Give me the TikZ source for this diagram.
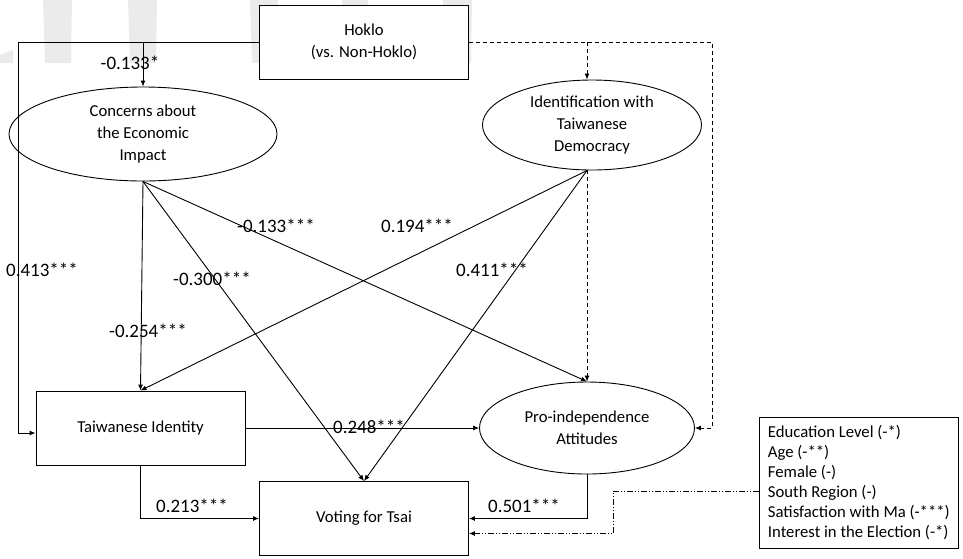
\documentclass[tikz,border=0pt]{standalone}
\usepackage{fontspec}
\setmainfont{Carlito}
\usetikzlibrary{shapes.geometric,arrows.meta,calc}
\begin{document}
\begin{tikzpicture}[x=1pt,y=-1pt,
  line width=0.9pt,
  >={Latex[length=6pt,width=5pt]},
  txt/.style={font=\fontsize{16.7}{22}\selectfont, align=center},
  boxnode/.style={txt, draw, fill=white, minimum width=209pt, minimum height=74pt, inner sep=0pt},
  ovalnode/.style={txt, draw, ellipse, fill=white, inner sep=0pt},
  coef/.style={font=\fontsize{19}{19}\selectfont, inner sep=0pt},
  hokloline/.style={dash pattern=on 4pt off 3pt},
  ctrlline/.style={dash pattern=on 6pt off 2pt on 1pt off 2pt on 1pt off 2pt},
  wmark/.style={fill=black!8, draw=none}]
\useasboundingbox (0,0) rectangle (963,558);

% faint vertical bars along the top edge
\fill[wmark] (0,55) -- (13,50) -- (13,63) -- (0,63) -- cycle;
\fill[wmark] (43,0) -- (72,0) -- (71,63) -- (45,63) -- cycle;
\fill[wmark] (128,0) -- (157,0) -- (156,63) -- (130,63) -- cycle;
\fill[wmark] (250,0) -- (278,0) -- (277,63) -- (252,63) -- cycle;
\fill[wmark] (342,0) -- (368,0) -- (367,63) -- (343,63) -- cycle;
\fill[wmark] (443,0) -- (472,0) -- (471,63) -- (445,63) -- cycle;

% variables
\node[boxnode] (hoklo) at (364,42) {Hoklo\\(vs. Non-Hoklo)};
\node[ovalnode, minimum width=268pt, minimum height=94pt] (conc) at (143,134) {Concerns about\\the Economic\\Impact};
\node[ovalnode, minimum width=219pt, minimum height=90pt] (ident) at (592,125) {Identification with\\Taiwanese\\Democracy};
\node[ovalnode, minimum width=215pt, minimum height=92pt] (pind) at (587,428) {Pro-independence\\Attitudes};
\node[boxnode] (tid) at (140.5,428) {Taiwanese Identity};
\node[boxnode] (vote) at (364,518.5) {Voting for Tsai};
\node[draw, align=left, anchor=west, inner xsep=8.5pt, inner ysep=0pt, minimum height=131pt,
      font=\fontsize{16.7}{20}\selectfont] (ctrl) at (759,482.5)
  {Education Level (-*)\\Age (-**)\\Female (-)\\South Region (-)\\Satisfaction with Ma (-***)\\Interest in the Election (-*)};

% helper points
\coordinate (lt) at (18,42);
\coordinate (rt) at (712,42);
\coordinate (idb) at (ident.south -| pind.north);
\coordinate (cm) at (613,491);

% paths from Hoklo
\draw[->] (hoklo.west) -- (lt) |- ($(tid.west)+(0,5)$);
\draw[->] (conc.north |- hoklo.west) -- (conc.north);
\draw[hokloline,->] (hoklo.east) -- (rt) |- (pind.east);
\draw[hokloline,->] (pind.north |- hoklo.east) -- (pind.north |- ident.north);
\draw[hokloline,->] (idb) -- (pind.north);

% structural paths
\draw[->] (conc.south) -- (tid.north);
\draw[->] (conc.south) -- (vote.north);
\draw[->] (conc.south) -- (pind.north);
\draw[->] (idb) -- (tid.north);
\draw[->] (idb) -- (vote.north);
\draw[->] (tid.east) -- (pind.west);
\draw[->] (tid.south) |- (vote.west);
\draw[->] (pind.south) |- (vote.east);
\draw[ctrlline,->] (ctrl.west |- cm) -- (cm) |- ($(vote.east)+(0,15)$);

% coefficients
\node[coef] (c1) at (130,63) {-0.133*};
\node[coef] (c2) at (42,270) {0.413***};
\node[coef] (c3) at (212,279) {-0.300***};
\node[coef] (c4) at (276,226) {-0.133***};
\node[coef] (c5) at (148,331) {-0.254***};
\node[coef] (c6) at (417,226) {0.194***};
\node[coef] (c7) at (492,270) {0.411***};
\node[coef] (c8) at (369,427) {0.248***};
\node[coef] (c9) at (192,506) {0.213***};
\node[coef] (c10) at (524,506) {0.501***};
\end{tikzpicture}
\end{document}
